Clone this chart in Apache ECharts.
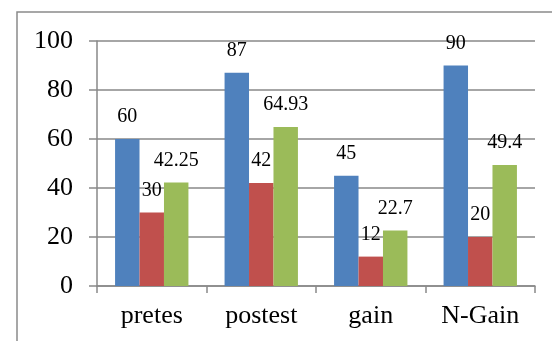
<!DOCTYPE html>
<html><head><meta charset="utf-8">
<script src="https://cdn.jsdelivr.net/npm/echarts@6/dist/echarts.min.js"></script>
<style>html,body{margin:0;padding:0;background:#fff}#c{width:552px;height:341px}</style>
</head><body><div id="c"></div>
<script>
const categories = ['pretes', 'postest', 'gain', 'N-Gain'];
const seriesA = [60, 87, 45, 90];
const seriesB = [30, 42, 12, 20];
const seriesC = [42.25, 64.93, 22.7, 49.4];
const yTicks = [0, 20, 40, 60, 80, 100];

const chart = echarts.init(document.getElementById('c'), null, {renderer: 'canvas'});
const font = '"Liberation Serif", "Times New Roman", serif';
const gridColor = '#898989';
const lbl = {show: true, position: 'top', distance: 12, fontFamily: font, fontSize: 20, color: '#000'};
function mk(data, color) {
  return {type: 'bar', data: data, barGap: '0%', barCategoryGap: '33%',
    itemStyle: {color: color}, label: lbl, animation: false};
}
chart.setOption({
  animation: false,
  graphic: [{type: 'rect', shape: {x: 17, y: 12, width: 700, height: 500},
    style: {fill: 'none', stroke: '#8a8a8a', lineWidth: 1.5}, silent: true}],
  grid: {left: 97, right: 17, top: 41, bottom: 55},
  xAxis: {type: 'category', data: categories,
    axisLine: {lineStyle: {color: gridColor, width: 1.5}},
    axisTick: {show: true, length: 7, lineStyle: {color: gridColor, width: 1.5}},
    axisLabel: {fontFamily: font, fontSize: 26, color: '#000', margin: 17}},
  yAxis: {type: 'value', min: yTicks[0], max: yTicks[yTicks.length - 1], interval: 20,
    axisLine: {show: true, lineStyle: {color: gridColor, width: 1.5}},
    axisTick: {show: true, length: 8, lineStyle: {color: gridColor, width: 1.5}},
    splitLine: {lineStyle: {color: gridColor, width: 1.5}},
    axisLabel: {fontFamily: font, fontSize: 26, color: '#000', margin: 24}},
  series: [mk(seriesA, '#4F81BD'), mk(seriesB, '#C0504D'), mk(seriesC, '#9BBB59')]
});
</script></body></html>
